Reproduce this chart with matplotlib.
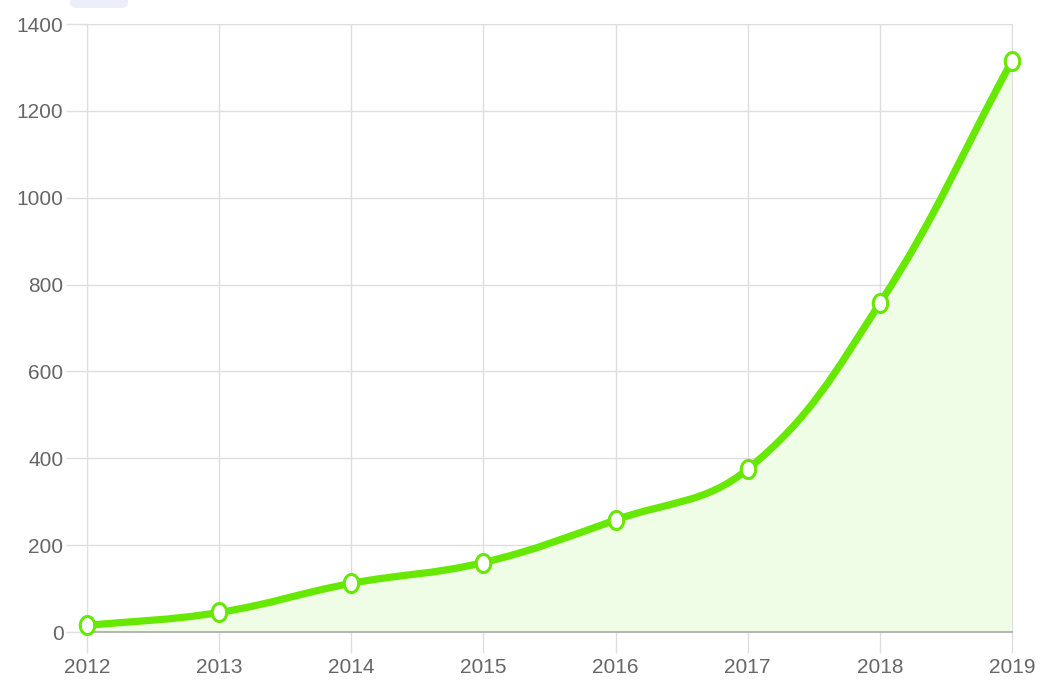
import numpy as np
import matplotlib.pyplot as plt
from matplotlib.path import Path
from matplotlib.patches import PathPatch, FancyBboxPatch
from matplotlib import font_manager

# data
years = [2012, 2013, 2014, 2015, 2016, 2017, 2018, 2019]
values = [15, 45, 112, 160, 258, 375, 757, 1315]
y_ticks = [0, 200, 400, 600, 800, 1000, 1200, 1400]

line_color = '#66e800'
fill_color = '#effde6'
grid_color = '#dedede'
text_color = '#666666'

names = {f.name for f in font_manager.fontManager.ttflist}
if 'Liberation Sans Narrow' in names:
    font, fsize = 'Liberation Sans Narrow', 18
else:
    font, fsize = 'Liberation Sans', 15
plt.rcParams['font.family'] = [font, 'DejaVu Sans']

fig = plt.figure(figsize=(10.41, 6.83), dpi=100)
ax = fig.add_axes([87 / 1041, 51 / 683, 925 / 1041, 608 / 683])
ax.set_xlim(years[0], years[-1])
ax.set_ylim(y_ticks[0], y_ticks[-1])


def spline_path(xs, ys, t=0.4):
    # bezier control points like Chart.js (tension 0.4), computed in pixel space
    pts = ax.transData.transform(np.column_stack([xs, ys]))
    n = len(pts)
    prev_cp, next_cp = [], []
    for i in range(n):
        p0 = pts[max(i - 1, 0)]
        p1 = pts[i]
        p2 = pts[min(i + 1, n - 1)]
        d01 = np.hypot(*(p1 - p0))
        d12 = np.hypot(*(p2 - p1))
        tot = d01 + d12
        s01 = d01 / tot if tot else 0
        s12 = d12 / tot if tot else 0
        prev_cp.append(p1 - t * s01 * (p2 - p0))
        next_cp.append(p1 + t * s12 * (p2 - p0))
    verts = [pts[0]]
    codes = [Path.MOVETO]
    for i in range(n - 1):
        verts += [next_cp[i], prev_cp[i + 1], pts[i + 1]]
        codes += [Path.CURVE4] * 3
    inv = ax.transData.inverted()
    return inv.transform(np.array(verts)), codes


verts, codes = spline_path(years, values)

# area under the curve
fill_verts = list(verts) + [(years[-1], 0), (years[0], 0), verts[0]]
fill_codes = codes + [Path.LINETO, Path.LINETO, Path.CLOSEPOLY]
ax.add_patch(PathPatch(Path(fill_verts, fill_codes), facecolor=fill_color,
                       edgecolor='none', zorder=1))
ax.add_patch(PathPatch(Path(verts, codes), facecolor='none', edgecolor=line_color,
                       lw=5.2, capstyle='round', joinstyle='round', zorder=3))

# slightly tall elliptical markers
th = np.linspace(0, 2 * np.pi, 40)
ellipse = Path(np.column_stack([0.8 * np.cos(th), np.sin(th)]))
ax.plot(years, values, linestyle='none', marker=ellipse, ms=13,
        mfc='white', mec=line_color, mew=2.2, clip_on=False, zorder=5)

ax.set_xticks(years)
ax.set_yticks(y_ticks)
ax.grid(True, color=grid_color, lw=1, zorder=0)
ax.set_axisbelow(True)
ax.tick_params(length=15, width=1, color=grid_color, labelcolor=text_color,
               labelsize=fsize, pad=2)
ax.tick_params(axis='x', pad=4)
for side in ['left', 'right', 'top']:
    ax.spines[side].set_color(grid_color)
ax.spines['bottom'].set_color('#a8a8a8')
ax.spines['bottom'].set_linewidth(1.2)

# cropped legend box at the top
fig.add_artist(FancyBboxPatch((70, 675), 58, 20,
                              boxstyle='round,pad=0,rounding_size=6',
                              transform=None, facecolor='#eceef9', edgecolor='none'))

fig.savefig('out.png', dpi=100)
